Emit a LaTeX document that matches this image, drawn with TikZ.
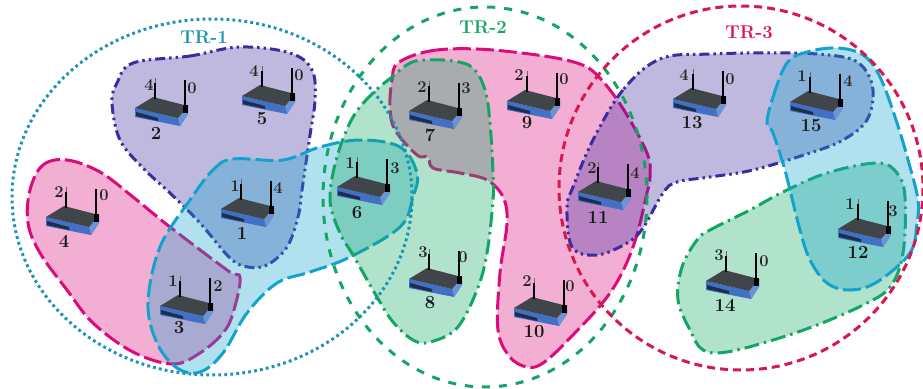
\documentclass[tikz,border=0pt]{standalone}
\usepackage{color}
\usetikzlibrary{positioning}
\definecolor{purpleline}{HTML}{3D2C9E}
\definecolor{cyanline}{HTML}{12A3CC}
\definecolor{pinkline}{HTML}{DC0A7A}
\definecolor{greenline}{HTML}{12A665}
\definecolor{tealline}{HTML}{1A93B5}
\definecolor{redline}{HTML}{D9174F}
\definecolor{routertop}{HTML}{3F4548}
\definecolor{routerblue}{HTML}{4270C4}
\definecolor{routerside}{HTML}{6C93D6}
\definecolor{routerpanel}{HTML}{1F2D4D}
\tikzset{
    router/.pic={
        \fill[routerblue] (-26,-3) -- (17,7) -- (27,-5) -- (27,3) -- (19,15) -- (-26,6) -- cycle;
        \fill[routerside] (17,7) -- (27,-5) -- (27,3) -- (19,15) -- cycle;
        \fill[routertop] (-26,-3) -- (-8,-14) -- (27,-5) -- (17,7) -- cycle;
        \fill[routerpanel] (-25,1) -- (-3,7) -- (-3,10) -- (-25,5) -- cycle;
        \draw[line width=1.6pt] (-6,-28) -- (-6,-12);
        \draw[line width=.5pt, black!60] (-6,-33) -- (-6,-28);
        \draw[line width=1.6pt] (24,-31) -- (24,-2);
        \fill[black] (22,-6) rectangle (27,2);
    },
    portlabel/.style={font=\fontsize{16.5}{16.5}\selectfont\bfseries, text=black!85, inner sep=0pt},
    routerlabel/.style={font=\fontsize{18.5}{18.5}\selectfont\bfseries, text=black!90, inner sep=0pt},
    ringlabel/.style={font=\fontsize{18.5}{18.5}\selectfont\bfseries, inner sep=0pt}
}

\begin{document}
\begin{tikzpicture}[
            x = 1pt, y = -1pt, % pixel coordinates of the page
            semithick % line style
            ]

        \tikzstyle{blob}=[line width = 3pt, fill opacity = .33, line join = round]
        \tikzstyle{dashdots}=[dash pattern = on 10pt off 4pt on 2.5pt off 4pt on 2.5pt off 4pt]
        \tikzstyle{dashdot}=[dash pattern = on 15pt off 5pt on 2.5pt off 5pt]
        \tikzstyle{longdash}=[dash pattern = on 18pt off 5pt]

        \useasboundingbox (0,0) rectangle (923,388);

        % TR-1 channels
        \draw[blob, pinkline, fill = pinkline, longdash] plot[smooth cycle, tension = .6] coordinates {
            (30,190) (43,165) (67,160) (100,172) (133,197) (170,227) (227,270) (240,278)
            (233,313) (223,333) (200,353) (173,364) (133,352) (93,323) (67,290) (40,253) (28,223)};
        \draw[blob, purpleline, fill = purpleline, dashdots] plot[smooth cycle, tension = .6] coordinates {
            (133,63) (190,56) (240,47) (290,53) (312,70) (315,100) (310,135) (302,190)
            (298,217) (287,247) (267,265) (248,267) (230,258) (200,223) (170,193) (143,168)
            (120,140) (112,103) (117,83)};
        \draw[blob, cyanline, fill = cyanline, longdash] plot[smooth cycle, tension = .6] coordinates {
            (190,200) (213,170) (233,159) (283,160) (320,147) (360,140) (400,147) (417,173)
            (413,197) (400,227) (350,257) (310,272) (277,283) (247,313) (223,353) (200,372)
            (177,368) (157,343) (148,303) (160,247)};

        % TR-2 channels
        \draw[blob, pinkline, fill = pinkline, longdash] plot[smooth cycle, tension = .6] coordinates {
            (398,63) (430,51) (477,49) (537,55) (577,63) (597,75) (622,107) (647,153) (650,177)
            (647,193) (633,247) (610,293) (570,338) (543,363) (527,367) (510,357) (498,330)
            (500,273) (507,223) (503,197) (487,180) (460,173) (433,168) (428,157) (417,155)
            (395,130) (390,107) (392,80)};
        \draw[blob, greenline, fill = greenline, dashdot] plot[smooth cycle, tension = .6] coordinates {
            (392,77) (373,93) (353,117) (337,157) (330,200) (340,233) (353,255) (377,297) (393,322)
            (413,340) (430,342) (457,328) (477,290) (487,253) (493,200) (493,173) (490,123)
            (485,90) (473,68) (453,61) (427,60) (410,63)};

        % TR-3 channels
        \draw[blob, purpleline, fill = purpleline, dashdots] plot[smooth cycle, tension = .6] coordinates {
            (660,59) (623,90) (593,140) (573,187) (567,207) (572,247) (597,255) (627,243) (643,228)
            (663,193) (677,182) (710,177) (753,170) (810,153) (843,140) (867,120) (873,90)
            (863,67) (843,57) (793,53) (710,54)};
        \draw[blob, greenline, fill = greenline, dashdot] plot[smooth cycle, tension = .6] coordinates {
            (697,240) (710,230) (750,210) (783,192) (827,173) (877,163) (897,173) (905,197)
            (903,253) (890,287) (863,305) (817,325) (773,340) (727,352) (703,350) (690,330)
            (678,300) (682,267)};
        \draw[blob, cyanline, fill = cyanline, longdash] plot[smooth cycle, tension = .6] coordinates {
            (767,123) (773,97) (787,63) (807,52) (837,48) (863,55) (880,77) (897,123) (910,167)
            (918,200) (917,223) (910,253) (877,282) (850,290) (827,283) (810,260) (800,230)
            (790,190) (785,170) (773,133)};

        % rings
        \draw[tealline, line width = 3pt, dash pattern = on 2.8pt off 3.2pt] (212,197) ellipse (200 and 178);
        \draw[greenline, line width = 3pt, dash pattern = on 8pt off 9pt] (485,197) ellipse (162 and 190);
        \draw[redline, line width = 3pt, dash pattern = on 8pt off 5pt] (741,188) ellipse (182 and 182);

        \node[ringlabel, text = tealline] (TR1) at (204,37) {TR-1};
        \node[ringlabel, text = greenline] (TR2) at (483,27) {TR-2};
        \node[ringlabel, text = redline] (TR3) at (749,32) {TR-3};

        % routers
        \pic at (247,212) {router};
        \node[routerlabel] (N1) at (242,233) {1};
        \node[portlabel] (L1) at (235,186) {1};
        \node[portlabel] (R1) at (278,188) {4};

        \pic at (161,111) {router};
        \node[routerlabel] (N2) at (156,133) {2};
        \node[portlabel] (L2) at (149,85) {4};
        \node[portlabel] (R2) at (192,88) {0};

        \pic at (186,309) {router};
        \node[routerlabel] (N3) at (179,328) {3};
        \node[portlabel] (L3) at (173,281) {1};
        \node[portlabel] (R3) at (218,286) {2};

        \pic at (72,220) {router};
        \node[routerlabel] (N4) at (64,241) {4};
        \node[portlabel] (L4) at (59,192) {2};
        \node[portlabel] (R4) at (104,195) {0};

        \pic at (268,99) {router};
        \node[routerlabel] (N5) at (262,119) {5};
        \node[portlabel] (L5) at (254,71) {4};
        \node[portlabel] (R5) at (299,75) {0};

        \pic at (363,190) {router};
        \node[routerlabel] (N6) at (357,213) {6};
        \node[portlabel] (L6) at (350,163) {1};
        \node[portlabel] (R6) at (395,168) {3};

        \pic at (435,114) {router};
        \node[routerlabel] (N7) at (430,135) {7};
        \node[portlabel] (L7) at (422,87) {2};
        \node[portlabel] (R7) at (466,88) {3};

        \pic at (435,282) {router};
        \node[routerlabel] (N8) at (430,303) {8};
        \node[portlabel] (L8) at (423,252) {3};
        \node[portlabel] (R8) at (463,257) {0};

        \pic at (533,104) {router};
        \node[routerlabel] (N9) at (527,123) {9};
        \node[portlabel] (L9) at (519,75) {2};
        \node[portlabel] (R9) at (564,79) {0};

        \pic at (540,311) {router};
        \node[routerlabel] (N10) at (534,332) {10};
        \node[portlabel] (L10) at (527,281) {2};
        \node[portlabel] (R10) at (570,286) {0};

        \pic at (604,195) {router};
        \node[routerlabel] (N11) at (598,217) {11};
        \node[portlabel] (L11) at (592,168) {2};
        \node[portlabel] (R11) at (635,173) {4};

        \pic at (864,232) {router};
        \node[routerlabel] (N12) at (858,252) {12};
        \node[portlabel] (L12) at (850,204) {1};
        \node[portlabel] (R12) at (893,211) {3};

        \pic at (699,102) {router};
        \node[routerlabel] (N13) at (692,123) {13};
        \node[portlabel] (L13) at (684,75) {4};
        \node[portlabel] (R13) at (730,79) {0};

        \pic at (732,284) {router};
        \node[routerlabel] (N14) at (725,305) {14};
        \node[portlabel] (L14) at (719,255) {3};
        \node[portlabel] (R14) at (764,261) {0};

        \pic at (816,105) {router};
        \node[routerlabel] (N15) at (811,126) {15};
        \node[portlabel] (L15) at (802,76) {1};
        \node[portlabel] (R15) at (848,81) {4};

\end{tikzpicture}
\end{document}
